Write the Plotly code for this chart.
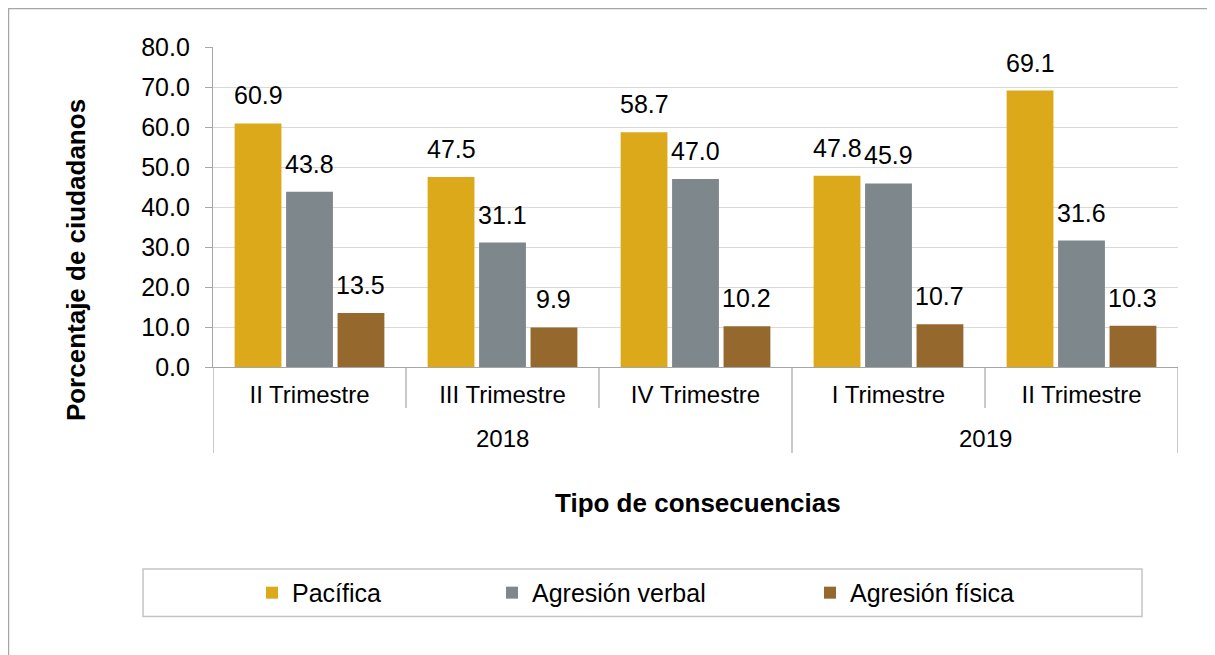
import plotly.graph_objects as go

years = ["2018", "2018", "2018", "2019", "2019"]
quarters = ["II Trimestre", "III Trimestre", "IV Trimestre", "I Trimestre", "II Trimestre"]

series_names = ["Pacífica", "Agresión verbal", "Agresión física"]
pacifica = [60.9, 47.5, 58.7, 47.8, 69.1]
verbal = [43.8, 31.1, 47.0, 45.9, 31.6]
fisica = [13.5, 9.9, 10.2, 10.7, 10.3]
colors = ["#DCA91B", "#7E878C", "#95692D"]

FONT = "Arial, Liberation Sans, sans-serif"
GRAY = "#A6A6A6"
BARGAP = 0.2

xpos = list(range(len(quarters)))
series = [pacifica, verbal, fisica]

fig = go.Figure()
slot = (1 - BARGAP) / len(series)
legend_ids = ["legend", "legend2", "legend3"]
for k, (name, vals, col) in enumerate(zip(series_names, series, colors)):
    fig.add_trace(go.Bar(
        x=xpos,
        y=vals,
        name=name,
        marker=dict(color=col, line=dict(width=0)),
        legend=legend_ids[k],
        hovertemplate="%{y:.1f}<extra>" + name + "</extra>",
    ))
    # data labels above bars
    off = (k - (len(series) - 1) / 2) * slot
    for i, v in zip(xpos, vals):
        fig.add_annotation(x=i + off, y=v, xref="x", yref="y", text=f"{v:.1f}",
                           showarrow=False, xanchor="center", yanchor="bottom", yshift=12,
                           font=dict(size=25, color="#000000", family=FONT))

# category dividers and year labels
bounds = [x - 0.5 for x in xpos] + [xpos[-1] + 0.5]
for b in bounds:
    left = int(b - 0.5)
    right = int(b + 0.5)
    outer = left < 0 or right >= len(xpos) or years[left] != years[right]
    fig.add_shape(type="line", xref="x", yref="paper", x0=b, x1=b,
                  y0=0, y1=-0.269 if outer else -0.128,
                  line=dict(color=GRAY, width=1.2))
for yr in dict.fromkeys(years):
    idx = [i for i, y in zip(xpos, years) if y == yr]
    fig.add_annotation(x=sum(idx) / len(idx), y=-0.222, xref="x", yref="paper",
                       text=yr, showarrow=False, xanchor="center", yanchor="middle",
                       font=dict(size=24, color="#000000", family=FONT))

# outer chart border and legend box
fig.add_shape(type="rect", xref="paper", yref="paper",
              x0=-0.2118, x1=1.06, y0=-0.95, y1=1.12,
              line=dict(color=GRAY, width=1.2), fillcolor="rgba(0,0,0,0)", layer="below")
fig.add_shape(type="rect", xref="paper", yref="paper",
              x0=-0.0725, x1=0.9627, y0=-0.78, y1=-0.631,
              line=dict(color="#C4C4C4", width=1.5), fillcolor="rgba(0,0,0,0)")

fig.add_annotation(text="<b>Porcentaje de ciudadanos</b>", xref="paper", yref="paper",
                   x=(76 - 213) / 965, y=0.334, textangle=-90, showarrow=False,
                   xanchor="center", yanchor="middle",
                   font=dict(size=26, color="#000000", family=FONT))
fig.add_annotation(text="<b>Tipo de consecuencias</b>", xref="paper", yref="paper",
                   x=(698 - 213) / 965, y=(367 - 503) / 320, showarrow=False,
                   xanchor="center", yanchor="middle",
                   font=dict(size=26, color="#000000", family=FONT))

leg_style = dict(orientation="h", y=-0.706, yanchor="middle", xanchor="left",
                 font=dict(size=25, color="#000000", family=FONT),
                 bgcolor="rgba(0,0,0,0)", borderwidth=0)
fig.update_layout(
    width=1215, height=655,
    margin=dict(l=205, r=45, t=39, b=296),
    paper_bgcolor="white", plot_bgcolor="white",
    barmode="group", bargap=BARGAP, bargroupgap=0.09,
    font=dict(family=FONT, color="#000000", size=24),
    legend=dict(x=(252 - 213) / 965, **leg_style),
    legend2=dict(x=(492 - 213) / 965, **leg_style),
    legend3=dict(x=(810 - 213) / 965, **leg_style),
    showlegend=True,
)
fig.update_xaxes(
    range=[-0.5, len(xpos) - 0.5],
    tickvals=xpos, ticktext=quarters, ticks="",
    showline=True, linecolor=GRAY, linewidth=1.2,
    tickfont=dict(size=24, color="#000000", family=FONT),
    ticklabelstandoff=6,
    showgrid=False, zeroline=False, automargin=False,
)
fig.update_yaxes(
    range=[0, 80], dtick=10, tickformat=".1f",
    showline=True, linecolor=GRAY, linewidth=1.2,
    ticks="outside", ticklen=7, tickcolor=GRAY,
    ticklabelstandoff=10,
    showgrid=True, gridcolor="#D9D9D9", gridwidth=1,
    tickfont=dict(size=25, color="#000000", family=FONT),
    zeroline=False, automargin=False,
)

fig.write_html("out.html")
